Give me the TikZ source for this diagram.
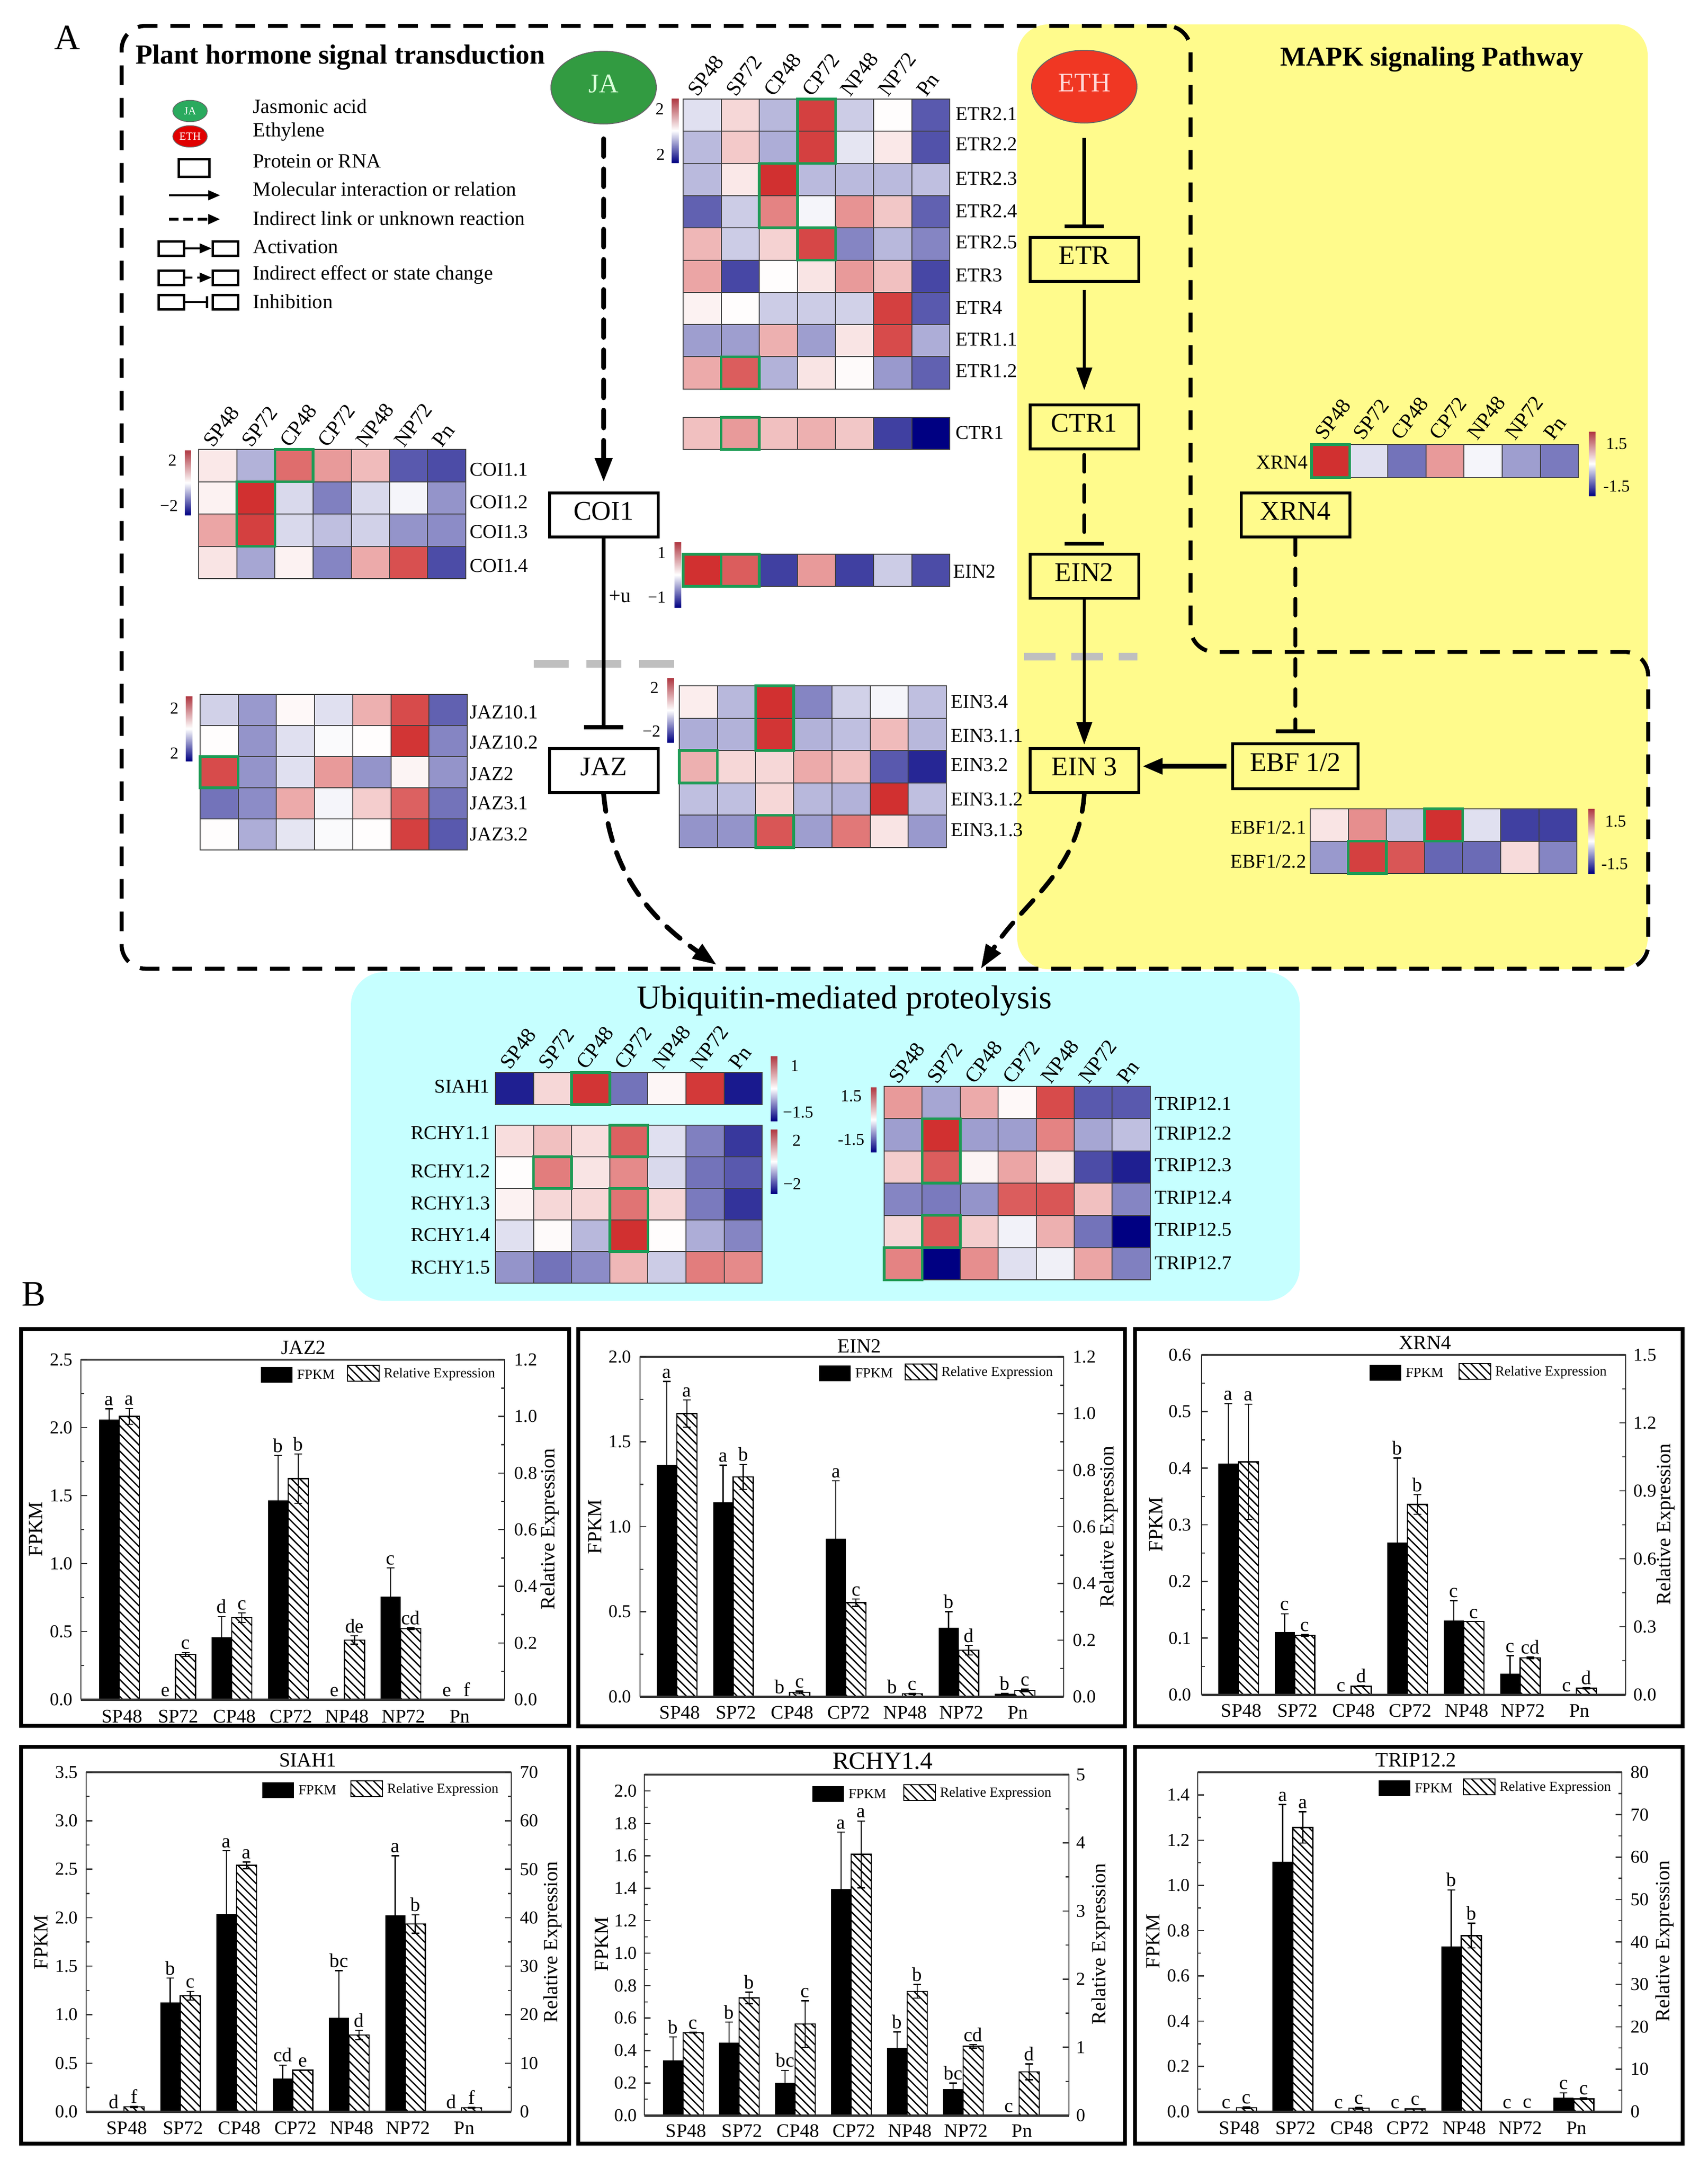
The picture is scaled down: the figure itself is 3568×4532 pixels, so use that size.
\documentclass[tikz,border=0pt]{standalone}
\usepackage{fontspec}
\setmainfont{Liberation Serif}
\usetikzlibrary{arrows.meta,patterns.meta,shapes.geometric}

\definecolor{hot}{RGB}{205,30,30}
\definecolor{cold}{RGB}{0,0,130}
\definecolor{cbtop}{RGB}{175,55,65}
\definecolor{padyellow}{RGB}{255,251,140}
\definecolor{padcyan}{RGB}{198,255,255}
\definecolor{ribbon}{RGB}{30,155,85}
\definecolor{jagreen}{RGB}{50,155,65}
\definecolor{ethred}{RGB}{240,55,35}

\newcommand{\fsz}[1]{\fontsize{#1pt}{#1pt}\selectfont}

% x, y, column width, row height, rows, green frames (column/row/rows)
\newcommand{\heatmap}[6]{%
  \foreach \rowvals [count=\rr from 0] in {#5} {
    \foreach \v [count=\cc from 0] in \rowvals {
      \ifnum\v<0 \edef\cellc{cold!\number\numexpr-\v\relax!white}\else\edef\cellc{hot!\v!white}\fi
      \draw[heatcell,fill=\cellc] ({#1+\cc*#3},{#2+\rr*#4}) rectangle +(#3,#4);
    }
  }
  \foreach \cc/\rr/\hh in {#6}
    \draw[greenframe] ({#1+\cc*#3},{#2+\rr*#4}) rectangle +(#3,{\hh*#4});
}
\newcommand{\rowlabels}[4]{%
  \foreach \yy/\txt [count=\i] in {#4}
    \node[rowlab,anchor=#2] (#1-\i) at (#3,\yy) {\txt};
}
\newcommand{\collabels}[4]{%
  \foreach \txt [count=\i from 0] in {SP48,SP72,CP48,CP72,NP48,NP72,Pn}
    \node[collab] (#1-\txt) at ({#2+(\i+.5)*#3-10},{#4+5}) {\txt};
}
\newcommand{\colorbar}[6]{%
  \shade[top color=cbtop,bottom color=cold,middle color=white] (#2,#3) rectangle (#4,#5);
  \foreach \lx/\ly/\txt [count=\i] in {#6}
    \node[cblab] (#1-\i) at (\lx,\ly) {\txt};
}

% every key of a chart ends up in a macro \chart<key>
\pgfkeys{/chart/.unknown/.code={\expandafter\def\csname chart\pgfkeyscurrentname\endcsname{#1}}}
\newcommand{\barchart}[2]{%
  \pgfqkeys{/chart}{#1}
  \draw[panel] (\chartfl,\chartft) rectangle (\chartfr,\chartfb);
  \draw[plotframe] (\chartxl,\chartyb) -- (\chartxl,\chartyt) -- (\chartxr,\chartyt) -- (\chartxr,\chartyb);
  \draw[plottop] (\chartxl,\chartyt) -- (\chartxr,\chartyt);
  \foreach \tk [count=\i] in \chartlticks {
    \pgfmathsetmacro\yy{\chartyb-\tk/\chartlmax*(\chartyb-\chartyt)}
    \pgfmathsetmacro\ym{\yy-.5*\chartlstep/\chartlmax*(\chartyb-\chartyt)}
    \draw[plotframe] (\chartxl,\yy) -- ++(13,0);
    \ifdim\ym pt>\chartyt pt \draw[plotframe] (\chartxl,\ym) -- ++(7,0);\fi
    \node[ticklab,anchor=east] (\chartname-l\i) at (\chartltx,\yy) {\tk};
  }
  \foreach \tk [count=\i] in \chartrticks {
    \pgfmathsetmacro\yy{\chartyb-\tk/\chartrmax*(\chartyb-\chartyt)}
    \pgfmathsetmacro\ym{\yy-.5*\chartrstep/\chartrmax*(\chartyb-\chartyt)}
    \draw[plotframe] (\chartxr,\yy) -- ++(-13,0);
    \ifdim\ym pt>\chartyt pt \draw[plotframe] (\chartxr,\ym) -- ++(-7,0);\fi
    \node[ticklab,anchor=west] (\chartname-r\i) at (\chartrtx,\yy) {\tk};
  }
  \foreach \valb/\topb/\labb/\valh/\toph/\labh [count=\i from 0] in {#2} {
    \pgfmathsetmacro\gx{\chartgx+\i*\chartdg}
    \pgfmathsetmacro\byy{\chartyb-\valb/\chartlmax*(\chartyb-\chartyt)}
    \pgfmathsetmacro\bty{\chartyb-\topb/\chartlmax*(\chartyb-\chartyt)}
    \pgfmathsetmacro\hyy{\chartyb-\valh/\chartrmax*(\chartyb-\chartyt)}
    \pgfmathsetmacro\hty{\chartyb-\toph/\chartrmax*(\chartyb-\chartyt)}
    \pgfmathsetmacro\hby{2*\hyy-\hty}
    \fill[black] ({\gx-42},\chartyb) rectangle (\gx,\byy);
    \draw[hatchbar] (\gx,\chartyb) rectangle ({\gx+42},\hyy);
    \draw[errbar] ({\gx-21},\byy) -- ({\gx-21},\bty) ({\gx-29},\bty) -- ({\gx-13},\bty);
    \draw[errbar] ({\gx+21},\hby) -- ({\gx+21},\hty) ({\gx+13},\hty) -- ({\gx+29},\hty) ({\gx+13},\hby) -- ({\gx+29},\hby);
    \node[barlab] (\chartname-a\i) at ({\gx-21},\bty) {\labb};
    \node[barlab] (\chartname-b\i) at ({\gx+21},\hty) {\labh};
  }
  \draw[plotbase] (\chartxl,\chartyb) -- (\chartxr,\chartyb);
  \foreach \txt [count=\i from 0] in {SP48,SP72,CP48,CP72,NP48,NP72,Pn}
    \node[catlab] (\chartname-c\i) at ({\chartgx+\i*\chartdg+6},\chartcy) {\txt};
  \node[font=\fsz{\chartts},inner sep=0pt] (\chartname-title) at (\chartxt,\chartty) {\charttitle};
  \node[axislab] (\chartname-f) at (\chartfx,\chartay) {FPKM};
  \node[axislab] (\chartname-e) at (\chartrx,\chartay) {Relative Expression};
  \fill[black] (\chartlx,\chartly) rectangle +(66,33);
  \draw[hatchbar] (\charthx,{\chartly-3}) rectangle +(66,33);
  \node[legsmall] (\chartname-lf) at ({\chartlx+74},{\chartly+16}) {FPKM};
  \node[legsmall] (\chartname-le) at ({\charthx+74},{\chartly+15}) {Relative Expression};
}

\begin{document}
\begin{tikzpicture}[x=0.2pt,y=-0.2pt,semithick]
\tikzstyle{heatcell}=[draw=black!75,line width=.4pt]
\tikzstyle{greenframe}=[draw=ribbon,line width=1.1pt]
\tikzstyle{rowlab}=[font=\fsz{8.2},inner sep=0pt]
\tikzstyle{collab}=[font=\fsz{8.8},inner sep=0pt,rotate=53,anchor=base west]
\tikzstyle{cblab}=[font=\fsz{7},inner sep=0pt]
\tikzstyle{legtxt}=[font=\fsz{8.45},inner sep=0pt,anchor=west]
\tikzstyle{legbox}=[draw,line width=1pt,inner sep=0pt,minimum width=10.6pt,minimum height=6pt]
\tikzstyle{pbox}=[draw,line width=1.2pt,inner sep=0pt,font=\fsz{11.3},text height=7.5pt,text depth=3.2pt,minimum width=45.4pt,minimum height=18.4pt]
\tikzstyle{hormone}=[ellipse,draw=black!60,line width=.4pt,minimum width=44pt,minimum height=30.4pt,inner sep=0pt,font=\fsz{11.3},text height=7.5pt,text depth=3.2pt]
\tikzstyle{smallhormone}=[ellipse,draw=black!60,line width=.3pt,minimum width=14.4pt,minimum height=9pt,inner sep=0pt,font=\fsz{4.6},text=white]
\tikzstyle{activate}=[line width=1.3pt,-{Triangle[width=6.4pt,length=9.5pt]}]
\tikzstyle{indirect}=[line width=2pt,line cap=round,dash pattern=on 7.4pt off 5.2pt,-{Triangle[width=7pt,length=10pt]}]
\tikzstyle{inhibit}=[line width=1.45pt,-{Bar[width=16.4pt,line width=1.7pt]}]
\tikzstyle{indinhibit}=[line width=1.6pt,line cap=round,dash pattern=on 7pt off 5.6pt,-{Bar[width=16.4pt,line width=1.7pt]}]
\tikzstyle{graydash}=[draw=black!25,line width=3.2pt]
\tikzstyle{panel}=[draw=black,line width=1.6pt]
\tikzstyle{plotframe}=[draw=black!80,line width=.5pt]
\tikzstyle{plottop}=[draw=black!75,line width=.9pt]
\tikzstyle{plotbase}=[draw=black!80,line width=1pt]
\tikzstyle{hatchbar}=[draw=black,line width=.5pt,pattern={Lines[angle=-45,distance=2.5pt,line width=.55pt]}]
\tikzstyle{errbar}=[draw=black,line width=.5pt]
\tikzstyle{ticklab}=[font=\fsz{7.6},inner sep=0pt]
\tikzstyle{catlab}=[font=\fsz{8},inner sep=0pt]
\tikzstyle{barlab}=[font=\fsz{8.2},inner sep=1pt,anchor=south]
\tikzstyle{axislab}=[font=\fsz{8.4},inner sep=0pt,rotate=90]
\tikzstyle{legsmall}=[font=\fsz{5.8},inner sep=0pt,anchor=west]

\useasboundingbox (0,0) rectangle (3568,4532);
\fill[white] (0,0) rectangle (3568,4532);

% coloured pads and the dashed outline
\fill[padyellow,rounded corners=13pt] (2125,51) rectangle (3442,2025);
\fill[padcyan,rounded corners=14pt] (733,2031) rectangle (2715,2718);
\draw[line width=1.7pt,dash pattern=on 8.2pt off 5.4pt,rounded corners=10pt]
  (2487,54) -- (254,54) -- (254,2024) -- (3443,2024) -- (3443,1362) -- (2487,1362) -- cycle;
\draw[graydash,dash pattern=on 14.6pt off 7.4pt] (1115,1387) -- (1408,1387);
\draw[graydash,dash pattern=on 13.2pt off 6.6pt] (2139,1372) -- (2376,1372);

\node[font=\fsz{15},inner sep=0pt] (panelA) at (141,79) {A};
\node[font=\fsz{15},inner sep=0pt] (panelB) at (71,2704) {B};
\node[font=\fsz{11.55}\bfseries,inner sep=0pt] (plantT) at (711,120) {Plant hormone signal transduction};
\node[font=\fsz{11.4}\bfseries,inner sep=0pt] (mapkT) at (2991,124) {MAPK signaling Pathway};
\node[font=\fsz{13.9},inner sep=0pt] (ubiqT) at (1764,2091) {Ubiquitin-mediated proteolysis};

% legend
\node[smallhormone,fill=jagreen!85!cyan] (legJA) at (397,232) {JA};
\node[smallhormone,fill=red!88!black] (legETH) at (397,285) {ETH};
\node[legbox,minimum width=12.8pt,minimum height=7.4pt] (legP) at (405,351) {};
\coordinate (legA1) at (353,408);
\coordinate (legA2) at (460,408);
\coordinate (legB1) at (353,458);
\coordinate (legB2) at (460,458);
\node[legbox] (legC1) at (358,519) {};
\node[legbox] (legC2) at (471,519) {};
\node[legbox] (legD1) at (358,580) {};
\node[legbox] (legD2) at (471,580) {};
\node[legbox] (legE1) at (358,631) {};
\node[legbox] (legE2) at (471,631) {};
\node[legtxt] (legT1) at (527,222) {Jasmonic acid};
\node[legtxt] (legT2) at (527,275) {Ethylene};
\node[legtxt] (legT3) at (527,337) {Protein or RNA};
\node[legtxt] (legT4) at (527,395) {Molecular interaction or relation};
\node[legtxt] (legT5) at (527,456) {Indirect link or unknown reaction};
\node[legtxt] (legT6) at (527,516) {Activation};
\node[legtxt] (legT7) at (527,574) {Indirect effect or state change};
\node[legtxt] (legT8) at (527,630) {Inhibition};
\path (legA1) edge[line width=.9pt,-{Triangle[width=4pt,length=5pt]}] (legA2)
      (legB1) edge[line width=1.2pt,dash pattern=on 4pt off 2pt,-{Triangle[width=4pt,length=5pt]}] (legB2)
      (legC1) edge[line width=.9pt,-{Triangle[width=4pt,length=5pt]}] (legC2)
      (legD1) edge[line width=.9pt,dash pattern=on 3pt off 2pt,-{Triangle[width=4pt,length=5pt]}] (legD2)
      (legE1) edge[line width=.9pt,-{Bar[width=5pt,line width=.9pt]},shorten >=1.5pt] (legE2);

% heat maps
\heatmap{415}{939}{79.7}{67.5}{{10,-30,65,45,30,-65,-70},{6,92,-15,-50,-15,-4,-42},{40,85,-15,-25,-18,-42,-45},{12,-35,6,-48,38,78,-70}}{2/0/1,1/1/2}
\collabels{coi}{415}{79.7}{933}
\rowlabels{coir}{west}{980}{981/COI1.1,1049/COI1.2,1111/COI1.3,1182/COI1.4}
\colorbar{coib}{386}{941}{399}{1076}{360/962/2,353/1057/−2}

\heatmap{418}{1451}{79.7}{65}{{-18,-40,3,-12,35,80,-62},{1,-42,-12,-2,1,90,-48},{80,-42,-12,45,-42,5,-42},{-55,-45,38,-4,22,70,-55},{1,-32,-10,-2,1,85,-65}}{0/2/1}
\rowlabels{jazr}{west}{980}{1488/JAZ10.1,1551/JAZ10.2,1617/JAZ2,1678/JAZ3.1,1743/JAZ3.2}
\colorbar{jazb}{388}{1455}{402}{1590}{364/1480/2,364/1574/2}

\heatmap{1427}{207}{79.6}{67.3}{{-12,18,-28,85,-20,1,-65},{-27,24,-32,85,-10,10,-68},{-27,10,92,-27,-27,-27,-25},{-62,-20,55,-4,48,25,-62},{32,-20,20,82,-48,-28,-48},{40,-72,1,12,45,28,-72},{6,1,-20,-20,-18,85,-65},{-38,-38,35,-38,12,80,-32},{38,72,-30,12,2,-40,-62}}{3/0/2,2/2/2,3/4/1,1/8/1}
\collabels{etr}{1427}{79.6}{200}
\rowlabels{etrr}{west}{1995}{238/ETR2.1,301/ETR2.2,373/ETR2.3,441/ETR2.4,506/ETR2.5,575/ETR3,643/ETR4,709/ETR1.1,775/ETR1.2}
\colorbar{etrb}{1403}{206}{1418}{340}{1378/228/2,1380/323/2}

\heatmap{1427}{872}{79.6}{67}{{28,45,28,35,25,-75,-100}}{1/0/1}
\rowlabels{ctrr}{west}{1995}{904/CTR1}

\heatmap{1427}{1158}{79.6}{67}{{92,72,-75,45,-75,-20,-70}}{0/0/1,1/0/1}
\rowlabels{einr}{west}{1990}{1194/EIN2}
\colorbar{einb}{1409}{1133}{1423}{1269}{1382/1155/1,1372/1248/−1}

\heatmap{1419}{1433}{79.7}{67.6}{{8,-28,92,-48,-18,-4,-25},{-32,-30,90,-30,-25,30,-28},{35,18,18,38,28,-65,-85},{-25,-25,18,-28,-30,92,-25},{-42,-42,75,-38,60,12,-40}}{2/0/2,0/2/1,2/4/1}
\rowlabels{ein3r}{west}{1985}{1466/EIN3.4,1537/EIN3.1.1,1598/EIN3.2,1670/EIN3.1.2,1734/EIN3.1.3}
\colorbar{ein3b}{1394}{1417}{1408}{1551}{1367/1437/2,1361/1528/−2}

\heatmap{2740}{929}{79.6}{69}{{92,-12,-55,45,-4,-38,-52}}{0/0/1}
\collabels{xrn}{2737}{79.6}{918}
\rowlabels{xrnr}{east}{2733}{966/XRN4}
\colorbar{xrnb}{3319}{902}{3333}{1036}{3377/927/1.5,3377/1016/-1.5}

\heatmap{2737}{1690}{79.6}{67.5}{{12,50,-22,92,-12,-75,-75},{-40,85,75,-60,-58,16,-48}}{3/0/1,1/1/1}
\rowlabels{ebfr}{east}{2730}{1729/{EBF1/2.1},1800/{EBF1/2.2}}
\colorbar{ebfb}{3318}{1690}{3331}{1825}{3375/1716/1.5,3373/1805/-1.5}

\heatmap{1035}{2241}{79.6}{67}{{-88,18,90,-55,4,88,-90}}{2/0/1}
\collabels{sia}{1035}{79.6}{2233}
\rowlabels{siar}{east}{1025}{2270/SIAH1}
\colorbar{siab}{1610}{2207}{1624}{2342}{1660/2227/1,1667/2324/−1.5}

\heatmap{1035}{2351}{79.6}{66}{{15,28,15,70,-12,-50,-78},{1,58,12,52,-15,-55,-65},{6,18,18,62,18,-52,-80},{-12,2,-28,92,1,-32,-48},{-42,-55,-45,32,-20,58,52}}{3/0/1,1/1/1,3/2/2}
\rowlabels{rchr}{east}{1025}{2367/RCHY1.1,2447/RCHY1.2,2514/RCHY1.3,2580/RCHY1.4,2648/RCHY1.5}
\colorbar{rchb}{1610}{2360}{1624}{2494}{1664/2383/2,1655/2474/−2}

\heatmap{1847}{2270}{79.4}{67.4}{{45,-35,38,3,80,-65,-65},{-38,92,-38,-38,55,-35,-25},{22,72,5,40,12,-70,-88},{-48,-52,-42,72,75,28,-48},{18,75,22,-5,35,-55,-100},{55,-100,50,-12,-6,40,-50}}{1/1/2,1/4/1,0/5/1}
\collabels{tri}{1847}{79.4}{2263}
\rowlabels{trir}{west}{2411}{2306/TRIP12.1,2368/TRIP12.2,2434/TRIP12.3,2502/TRIP12.4,2569/TRIP12.5,2639/TRIP12.7}
\colorbar{trib}{1819}{2272}{1831}{2407}{1778/2290/1.5,1778/2381/-1.5}

% pathway
\node[hormone,fill=jagreen,text=white!85!green] (JA) at (1261,183) {JA};
\node[hormone,fill=ethred,text=white!85!red] (ETH) at (2265,181) {ETH};
\node[pbox][node distance=178.6pt,below of=JA](COI1){COI1};
\node[pbox][node distance=106.7pt,below of=COI1](JAZ){JAZ};
\node[pbox][node distance=72.2pt,below of=ETH](ETR){ETR};
\node[pbox][node distance=69.9pt,below of=ETR](CTR1){CTR1};
\node[pbox][node distance=62.5pt,below of=CTR1](EIN2){EIN2};
\node[pbox][node distance=81.2pt,below of=EIN2](EIN3){EIN 3};
\node[pbox] (XRN4) at (2706,1076) {XRN4};
\node[pbox,minimum width=52.4pt,minimum height=18.8pt][node distance=105pt,below of=XRN4](EBF){EBF 1/2};
\coordinate (ubiqA) at (1497,2016);
\coordinate (ubiqB) at (2049,2024);
\path (JA) edge[indirect,shorten <=6pt,shorten >=4pt] (COI1)
      (COI1) edge[inhibit,shorten >=7.4pt] node[pos=.28,right=1.6pt,font=\fsz{8.6},inner sep=0pt,name=ubiqmark]{+u} (JAZ)
      (ETH) edge[inhibit,shorten <=6pt,shorten >=3.2pt] (ETR)
      (ETR) edge[activate,shorten <=3pt,shorten >=5.4pt] (CTR1)
      (CTR1) edge[indinhibit,shorten <=2pt,shorten >=3pt] (EIN2)
      (EIN2) edge[activate,shorten >=1pt] (EIN3)
      (XRN4) edge[indinhibit,shorten >=3.8pt] (EBF)
      (EBF.west) edge[line width=2pt,shorten <=2pt,shorten >=1pt,-{Triangle[width=6.4pt,length=8.4pt]}] (EBF.west -| EIN3.east)
      (JAZ.south) edge[indirect,out=-85,in=145] (ubiqA)
      (EIN3.south) edge[indirect,line width=1.9pt,out=-94,in=58] (ubiqB);

% bar charts
\barchart{name=jaz,title=JAZ2,ts=8.4,fl=44,ft=2777,fr=1189,fb=3606,xl=169,xr=1054,yt=2841,yb=3551,gx=249,dg=117.6,
  lmax=2.5,lstep=.5,lticks={0.0,0.5,1.0,1.5,2.0,2.5},rmax=1.2,rstep=.2,rticks={0.0,0.2,0.4,0.6,0.8,1.0,1.2},
  xt=634,ty=2816,fx=75,rx=1148,ay=3195,ltx=153,rtx=1073,cy=3586,lx=545,ly=2856,hx=726}
 {2.06/2.14/a/1.0/1.028/a,0/0/e/.159/.166/c,.459/.61/d/.289/.306/c,1.465/1.796/b/.78/.867/b,0/0/e/.21/.225/de,.757/.968/c/.25/.253/cd,0/0/e/0/0/f}
\barchart{name=ein,title=EIN2,ts=8.4,fl=1208,ft=2777,fr=2350,fb=3607,xl=1337,xr=2222,yt=2835,yb=3545,gx=1414,dg=117.7,
  lmax=2.0,lstep=.5,lticks={0.0,0.5,1.0,1.5,2.0},rmax=1.2,rstep=.2,rticks={0.0,0.2,0.4,0.6,0.8,1.0,1.2},
  xt=1795,ty=2813,fx=1243,rx=2316,ay=3190,ltx=1320,rtx=2240,cy=3578,lx=1711,ly=2853,hx=1891}
 {1.364/1.855/a/1.0/1.048/a,1.145/1.362/a/.776/.82/b,0/0/b/.015/.02/c,.93/1.27/a/.332/.345/c,0/0/b/.01/.012/c,.407/.5/b/.164/.181/d,.016/.02/b/.022/.026/c}
\barchart{name=xrn,title=XRN4,ts=8.4,fl=2371,ft=2777,fr=3515,fb=3607,xl=2510,xr=3396,yt=2831,yb=3541,gx=2587,dg=117.7,
  lmax=0.6,lstep=.1,lticks={0.0,0.1,0.2,0.3,0.4,0.5,0.6},rmax=1.5,rstep=.3,rticks={0.0,0.3,0.6,0.9,1.2,1.5},
  xt=2977,ty=2806,fx=2415,rx=3479,ay=3185,ltx=2490,rtx=3411,cy=3574,lx=2861,ly=2852,hx=3048}
 {.408/.514/a/1.028/1.283/a,.111/.143/c/.262/.265/c,0/0/c/.0376/.039/d,.269/.418/b/.84/.883/b,.131/.166/c/.323/.323/c,.037/.069/c/.163/.167/cd,0/0/c/.029/.032/d}
\barchart{name=sia,title=SIAH1,ts=8.4,fl=44,ft=3650,fr=1189,fb=4479,xl=180,xr=1068,yt=3703,yb=4412,gx=259,dg=117.5,
  lmax=3.5,lstep=.5,lticks={0.0,0.5,1.0,1.5,2.0,2.5,3.0,3.5},rmax=70,rstep=10,rticks={0,10,20,30,40,50,60,70},
  xt=643,ty=3678,fx=86,rx=1154,ay=4058,ltx=164,rtx=1085,cy=4446,lx=548,ly=3724,hx=733}
 {0/0/d/.98/1.09/f,1.125/1.378/b/23.9/24.8/c,2.04/2.69/a/50.8/51.5/a,.342/.48/cd/8.56/8.6/e,.968/1.455/bc/15.8/16.8/d,2.024/2.64/a/38.7/40.6/b,0/0/d/.8/.9/f}
\barchart{name=rch,title=RCHY1.4,ts=10.4,fl=1208,ft=3650,fr=2350,fb=4479,xl=1346,xr=2233,yt=3708,yb=4420,gx=1427,dg=117,
  lmax=2.1,lstep=.2,lticks={0.0,0.2,0.4,0.6,0.8,1.0,1.2,1.4,1.6,1.8,2.0},rmax=5,rstep=1,rticks={0,1,2,3,4,5},
  xt=1844,ty=3680,fx=1257,rx=2299,ay=4062,ltx=1332,rtx=2247,cy=4452,lx=1697,ly=3732,hx=1888}
 {.34/.484/b/1.214/1.22/c,.45/.575/b/1.725/1.81/b,.2/.278/bc/1.34/1.684/c,1.396/1.746/a/3.83/4.32/a,.415/.515/b/1.82/1.92/b,.163/.2/bc/1.014/1.04/cd,0/0/c/.64/.756/d}
\barchart{name=tri,title=TRIP12.2,ts=8.6,fl=2371,ft=3650,fr=3515,fb=4479,xl=2502,xr=3388,yt=3703,yb=4412,gx=2583,dg=117.4,
  lmax=1.5,lstep=.2,lticks={0.0,0.2,0.4,0.6,0.8,1.0,1.2,1.4},rmax=80,rstep=10,rticks={0,10,20,30,40,50,60,70,80},
  xt=2958,ty=3678,fx=2409,rx=3477,ay=4056,ltx=2487,rtx=3405,cy=4446,lx=2880,ly=3720,hx=3057}
 {0/0/c/.92/1.1/c,1.105/1.357/a/67/70.7/a,0/0/c/.8/1/c,0/0/c/.65/.7/c,.729/.98/b/41.5/44.4/b,0/0/c/.05/.05/c,.062/.083/c/3/3.2/c}
\end{tikzpicture}
\end{document}
